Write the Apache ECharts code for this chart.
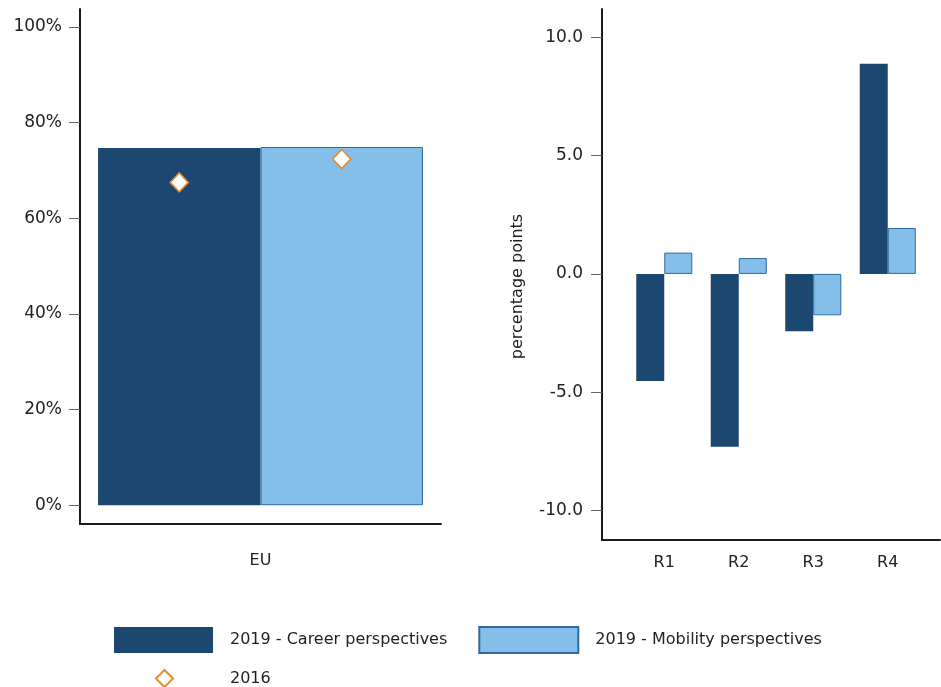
<!DOCTYPE html>
<html><head><meta charset="utf-8">
<script src="https://cdn.jsdelivr.net/npm/echarts@6.0.0/dist/echarts.min.js"></script>
<style>html,body{margin:0;padding:0;background:#fff}#c{width:941px;height:687px}</style>
</head><body><div id="c"></div>
<script>
const leftCategories = ['EU'];
const leftCareer2019 = [74.7];
const leftMobility2019 = [74.9];
const leftMarkerCats = ['Career perspectives', 'Mobility perspectives'];
const values2016 = [67.5, 72.4];
const leftTicks = [0, 20, 40, 60, 80, 100];

const regions = ['R1', 'R2', 'R3', 'R4'];
const regionCareer = [-4.53, -7.31, -2.42, 8.88];
const regionMobility = [0.9, 0.67, -1.75, 1.94];
const rightTicks = [-10, -5, 0, 5, 10];

const S_CAREER = '2019 - Career perspectives';
const S_MOBILITY = '2019 - Mobility perspectives';
const S_2016 = '2016';

const FONT = 'DejaVu Sans';
const TXT = '#222';
const DARK = '#1C4770';
const LIGHT = '#83BFE9';
const LIGHT_BORDER = '#2F6A9F';
const ORANGE = '#E8892A';

const chart = echarts.init(document.getElementById('c'), null, {renderer: 'canvas'});

const axisLineStyle = {show: true, onZero: false, lineStyle: {color: '#1a1a1a', width: 2}};

chart.setOption({
  animation: false,
  backgroundColor: '#fff',
  textStyle: {fontFamily: FONT, color: TXT},
  grid: [
    {left: 80, top: 9, width: 361, height: 515, containLabel: false},
    {left: 98, top: 9, width: 325, height: 515, containLabel: false},
    {left: 602, top: 9, width: 338, height: 531, containLabel: false},
    {left: 627, top: 9, width: 298, height: 531, containLabel: false}
  ],
  xAxis: [
    {gridIndex: 0, type: 'category', data: leftCategories,
     axisLine: axisLineStyle, axisTick: {show: false},
     axisLabel: {margin: 29, fontSize: 16, color: TXT, fontFamily: FONT}},
    {gridIndex: 1, type: 'category', data: leftMarkerCats, show: false},
    {gridIndex: 2, type: 'value', min: 0, max: 1,
     axisLine: axisLineStyle, axisTick: {show: false}, axisLabel: {show: false}, splitLine: {show: false}},
    {gridIndex: 3, type: 'category', data: regions,
     axisLine: {show: false}, axisTick: {show: false},
     axisLabel: {margin: 15, fontSize: 16, color: TXT, fontFamily: FONT}}
  ],
  yAxis: [
    {gridIndex: 0, type: 'value', min: -3.93, max: 103.76,
     axisLine: axisLineStyle,
     axisTick: {show: true, length: 11, lineStyle: {color: '#666', width: 1}, customValues: leftTicks},
     axisLabel: {margin: 18, fontSize: 17, color: TXT, fontFamily: FONT, customValues: leftTicks,
       formatter: v => Math.round(v) + '%'},
     splitLine: {show: false}},
    {gridIndex: 1, type: 'value', min: -3.93, max: 103.76, show: false, splitLine: {show: false}},
    {gridIndex: 2, type: 'value', min: -11.25, max: 11.2,
     axisLine: axisLineStyle,
     axisTick: {show: true, length: 11, lineStyle: {color: '#666', width: 1}, customValues: rightTicks},
     axisLabel: {margin: 19, fontSize: 17, color: TXT, fontFamily: FONT, customValues: rightTicks,
       formatter: v => v.toFixed(1)},
     splitLine: {show: false},
     name: 'percentage points', nameLocation: 'middle', nameGap: 76,
     nameTextStyle: {fontSize: 16, color: TXT, fontFamily: FONT, padding: [0, 24, 0, 0]}},
    {gridIndex: 3, type: 'value', min: -11.25, max: 11.2, show: false, splitLine: {show: false}}
  ],
  legend: [
    {left: 114, top: 626, padding: 0, itemWidth: 99, itemHeight: 26, itemGap: 31, icon: 'rect',
     data: [S_CAREER, S_MOBILITY],
     textStyle: {fontSize: 16, color: TXT, fontFamily: FONT, padding: [0, 0, 0, 12]}},
    {left: 155, top: 669, padding: 0, itemWidth: 17, itemHeight: 17,
     data: [{name: S_2016, icon: 'diamond'}],
     textStyle: {fontSize: 16, color: TXT, fontFamily: FONT, padding: [0, 0, 0, 52]}}
  ],
  series: [
    {name: S_CAREER, type: 'bar', xAxisIndex: 0, yAxisIndex: 0, data: leftCareer2019,
     barGap: '0%', barCategoryGap: '10%', itemStyle: {color: DARK}},
    {name: S_MOBILITY, type: 'bar', xAxisIndex: 0, yAxisIndex: 0, data: leftMobility2019,
     barGap: '0%', barCategoryGap: '10%', itemStyle: {color: LIGHT, borderColor: LIGHT_BORDER, borderWidth: 1}},
    {name: S_CAREER, type: 'bar', xAxisIndex: 3, yAxisIndex: 3, data: regionCareer,
     barGap: '0%', barCategoryGap: '24.8%', itemStyle: {color: DARK}},
    {name: S_MOBILITY, type: 'bar', xAxisIndex: 3, yAxisIndex: 3, data: regionMobility,
     barGap: '0%', barCategoryGap: '24.8%', itemStyle: {color: LIGHT, borderColor: LIGHT_BORDER, borderWidth: 1}},
    {name: S_2016, type: 'scatter', xAxisIndex: 1, yAxisIndex: 1, data: values2016,
     symbol: 'diamond', symbolSize: [18, 19], z: 5,
     itemStyle: {color: '#fff', borderColor: ORANGE, borderWidth: 1.6, opacity: 1}}
  ]
});
</script>
</body></html>
